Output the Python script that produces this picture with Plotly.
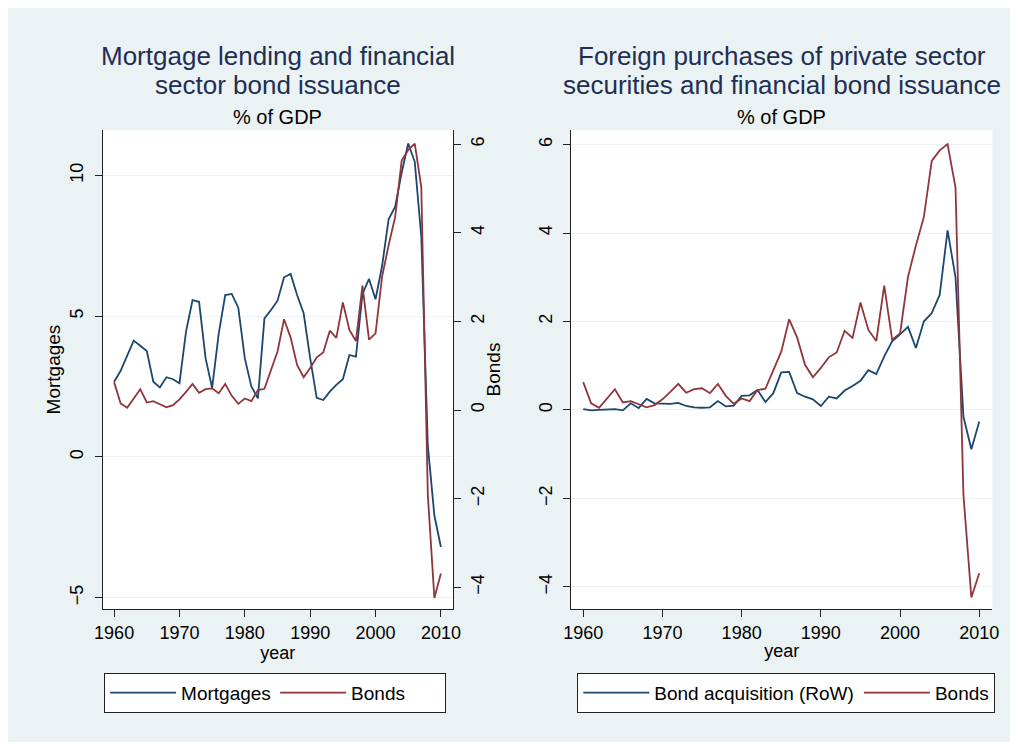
import plotly.graph_objects as go

years = list(range(1960, 2011))

mortgages = [2.67, 3.06, 3.60, 4.13, 3.95, 3.76, 2.67, 2.47, 2.83, 2.76,
             2.62, 4.45, 5.57, 5.51, 3.50, 2.45, 4.37, 5.75, 5.79, 5.30,
             3.50, 2.50, 2.08, 4.92, 5.22, 5.55, 6.38, 6.50, 5.75, 5.10,
             3.50, 2.10, 2.02, 2.32, 2.56, 2.76, 3.62, 3.56, 5.79, 6.32,
             5.60, 6.78, 8.44, 8.89, 10.10, 11.13, 10.48, 7.82, 0.40, -2.08,
             -3.20]

bonds = [0.63, 0.15, 0.05, 0.26, 0.47, 0.17, 0.20, 0.13, 0.06, 0.11,
         0.24, 0.41, 0.59, 0.39, 0.47, 0.49, 0.38, 0.59, 0.32, 0.14,
         0.26, 0.20, 0.45, 0.48, 0.90, 1.32, 2.05, 1.64, 1.02, 0.74,
         0.95, 1.19, 1.30, 1.79, 1.63, 2.43, 1.81, 1.56, 2.81, 1.59,
         1.73, 3.01, 3.72, 4.36, 5.63, 5.87, 6.01, 5.03, -1.92, -4.24,
         -3.69]

bond_acq_row = [0.02, -0.01, 0.00, 0.01, 0.02, -0.01, 0.15, 0.04, 0.25, 0.15,
                0.14, 0.14, 0.16, 0.09, 0.06, 0.05, 0.06, 0.20, 0.08, 0.10,
                0.32, 0.33, 0.45, 0.18, 0.38, 0.85, 0.86, 0.38, 0.30, 0.24,
                0.09, 0.30, 0.26, 0.44, 0.54, 0.66, 0.90, 0.81, 1.21, 1.55,
                1.71, 1.88, 1.40, 2.00, 2.19, 2.60, 4.06, 3.00, -0.15, -0.89,
                -0.26]

x_ticks = [1960, 1970, 1980, 1990, 2000, 2010]
mort_ticks = [-5, 0, 5, 10]
bond_ticks = [-4, -2, 0, 2, 4, 6]

# the page body adds an 8px margin, so the figure is laid out in page pixels minus 8
OFF = 8
W, H = 1022 - OFF, 747 - OFF
NAVY = "#1A476F"
MAROON = "#90353B"
BG = "#EAF2F3"
FONT = "Liberation Sans, Arial, sans-serif"
TITLE_C = "#1F2E55"

def px(x):
    return (x - OFF) / W

def py(y):
    return 1 - (y - OFF) / H

fig = go.Figure()
fig.add_trace(go.Scatter(x=years, y=mortgages, name="Mortgages", mode="lines",
                         line=dict(color=NAVY, width=1.8), xaxis="x", yaxis="y",
                         legend="legend"))
fig.add_trace(go.Scatter(x=years, y=bonds, name="Bonds", mode="lines",
                         line=dict(color=MAROON, width=1.8), xaxis="x", yaxis="y2",
                         legend="legend"))
fig.add_trace(go.Scatter(x=years, y=bond_acq_row, name="Bond acquisition (RoW)", mode="lines",
                         line=dict(color=NAVY, width=1.8), xaxis="x2", yaxis="y3",
                         legend="legend2"))
fig.add_trace(go.Scatter(x=years, y=bonds, name="Bonds", mode="lines",
                         line=dict(color=MAROON, width=1.8), xaxis="x2", yaxis="y3",
                         legend="legend2"))

ydom = [py(609), py(130)]
tickfont = dict(family=FONT, size=18, color="black")
common_axis = dict(showline=True, linecolor="#222", linewidth=1, ticks="outside",
                   ticklen=7, tickcolor="#222", zeroline=False, tickfont=tickfont)

fig.update_layout(
    width=W, height=H,
    margin=dict(l=0, r=0, t=0, b=0),
    paper_bgcolor=BG, plot_bgcolor="white",
    font=dict(family=FONT, color="black"),
    xaxis=dict(domain=[px(96), px(452)], range=[1958.24, 2011.85], tickvals=x_ticks,
               showgrid=False, anchor="y", ticklabelstandoff=0,
               title=dict(text="year", font=dict(family=FONT, size=18), standoff=2),
               **common_axis),
    yaxis=dict(domain=ydom, range=[-5.40, 11.61], tickvals=mort_ticks, tickangle=-90,
               showgrid=True, gridcolor=BG, gridwidth=1, anchor="x", ticklabelstandoff=4,
               title=dict(text="Mortgages", font=dict(family=FONT, size=19), standoff=1),
               **common_axis),
    yaxis2=dict(overlaying="y", side="right", anchor="x", range=[-4.49, 6.32],
                tickvals=bond_ticks, tickangle=-90, showgrid=False, ticklabelstandoff=1,
                title=dict(text="Bonds", font=dict(family=FONT, size=19), standoff=0),
                **common_axis),
    xaxis2=dict(domain=[px(572), px(1000)], range=[1958.47, 2011.65], tickvals=x_ticks,
                showgrid=False, anchor="y3", ticklabelstandoff=0,
                title=dict(text="year", font=dict(family=FONT, size=18), standoff=2),
                **common_axis),
    yaxis3=dict(domain=ydom, range=[-4.50, 6.33], tickvals=bond_ticks, tickangle=-90,
                showgrid=True, gridcolor=BG, gridwidth=1, anchor="x2", ticklabelstandoff=4,
                **common_axis),
    legend=dict(x=px(97.5), y=py(672.7), xanchor="left", yanchor="top",
                orientation="h", bgcolor="white", bordercolor="#222", borderwidth=1,
                font=dict(family=FONT, size=19, color="black"), itemwidth=66,
                entrywidth=89),
    legend2=dict(x=px(578.3), y=py(672.7), xanchor="left", yanchor="top",
                 orientation="h", bgcolor="white", bordercolor="#222", borderwidth=1,
                 font=dict(family=FONT, size=19, color="black"), itemwidth=66),
)

def title_ann(text, xc, yc, size, color):
    return dict(text=text, x=px(xc), y=py(yc), xref="paper", yref="paper",
                xanchor="center", yanchor="middle", showarrow=False,
                font=dict(family=FONT, size=size, color=color))

lc = (96 + 452) / 2
rc = (572 + 1000) / 2
anns = [
    title_ann("Mortgage lending and financial", lc, 56.0, 26, TITLE_C),
    title_ann("sector bond issuance", lc, 85.3, 26, TITLE_C),
    title_ann("% of GDP", lc, 117, 20, "black"),
    title_ann("Foreign purchases of private sector", rc, 56.0, 26, TITLE_C),
    title_ann("securities and financial bond issuance", rc, 85.3, 26, TITLE_C),
    title_ann("% of GDP", rc, 117, 20, "black"),
]
fig.update_layout(annotations=anns)

# thin white frame on the right and bottom edges of the graph region
frame = [(1018, 0, 1022, 747), (0, 742, 1022, 747)]
fig.update_layout(shapes=[dict(type="rect", xref="paper", yref="paper",
                               x0=px(a), x1=px(c), y0=py(d), y1=py(b),
                               fillcolor="white", line=dict(width=0), layer="above")
                          for a, b, c, d in frame])

fig.write_html("out.html")
